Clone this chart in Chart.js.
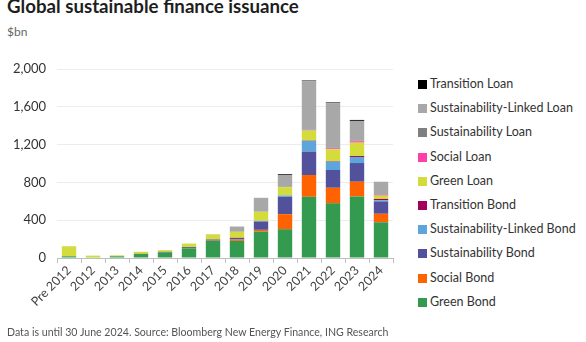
<!DOCTYPE html>
<html>
<head>
<meta charset="utf-8">
<script src="https://cdn.jsdelivr.net/npm/chart.js@4.4.1/dist/chart.umd.min.js"></script>
<style>
  html, body { margin: 0; padding: 0; background: #fff; }
  body { width: 586px; height: 342px; position: relative; overflow: hidden; font-family: Lato, "Noto Sans", sans-serif; }
  #title { position: absolute; left: 7px; top: -5px; font-size: 18.7px; font-weight: bold; color: #1e1e1e; white-space: nowrap; }
  #unit { position: absolute; left: 7px; top: 24px; font-size: 12px; color: #666; }
  #foot { position: absolute; left: 7px; top: 326px; font-size: 10.6px; color: #555; white-space: nowrap; }
  #wrap { position: absolute; left: 0; top: 0; width: 400px; height: 342px; }
  #legend { position: absolute; left: 418px; top: 0; }
  .li { position: absolute; left: 0; white-space: nowrap; font-size: 12.5px; color: #333; height: 14px; line-height: 14px; }
  .li span.b { position: absolute; left: 0; top: 3px; width: 9px; height: 9px; }
  .li span.t { position: absolute; left: 12px; top: 0; }
</style>
</head>
<body>
<div id="title">Global sustainable finance issuance</div>
<div id="unit">$bn</div>
<div id="wrap"><canvas id="c" width="400" height="342"></canvas></div>
<div id="legend"></div>
<div id="foot">Data is until 30 June 2024. Source: Bloomberg New Energy Finance, ING Research</div>
<script>
const categories = ['Pre 2012','2012','2013','2014','2015','2016','2017','2018','2019','2020','2021','2022','2023','2024'];
const yTicks = [0, 400, 800, 1200, 1600, 2000];

const greenBond          = [18, 7, 18, 42, 57, 103, 181, 181, 280, 305, 648, 580, 651, 378];
const socialBond         = [0, 0, 0, 0, 0, 2, 3, 15, 18, 159, 230, 163, 156, 90];
const sustainabilityBond = [0, 0, 0, 2, 8, 10, 12, 18, 88, 184, 248, 188, 198, 131];
const slBond             = [0, 0, 0, 0, 0, 0, 0, 0, 7, 14, 113, 88, 64, 12];
const transitionBond     = [0, 0, 0, 0, 0, 0, 0, 0, 0, 0, 3, 5, 10, 14];
const greenLoan          = [104, 18, 10, 22, 18, 38, 53, 64, 96, 88, 106, 127, 142, 35];
const socialLoan         = [0, 0, 0, 0, 0, 0, 0, 0, 0, 0, 3, 10, 14, 7];
const sustainabilityLoan = [0, 0, 0, 0, 0, 0, 0, 5, 3, 4, 6, 6, 6, 5];
const sllLoan            = [4, 0, 0, 0, 0, 0, 3, 50, 145, 125, 513, 471, 210, 135];
const transitionLoan     = [0, 0, 0, 0, 0, 0, 0, 0, 0, 8, 8, 8, 10, 0];

const seriesNames  = ['Green Bond','Social Bond','Sustainability Bond','Sustainability-Linked Bond','Transition Bond','Green Loan','Social Loan','Sustainability Loan','Sustainability-Linked Loan','Transition Loan'];
const seriesValues = [greenBond, socialBond, sustainabilityBond, slBond, transitionBond, greenLoan, socialLoan, sustainabilityLoan, sllLoan, transitionLoan];
const seriesColors = ['#349a4f','#ff6200','#52519c','#5ca6dd','#a3005c','#d3dc3b','#ff3ea8','#7f7f7f','#a8a8a8','#000000'];

const datasets = seriesNames.map((n, i) => ({
  label: n,
  data: seriesValues[i],
  backgroundColor: seriesColors[i],
  borderWidth: 0,
  categoryPercentage: 0.6,
  barPercentage: 1.0
}));

// HTML legend (top item = top of stack)
const leg = document.getElementById('legend');
for (let k = seriesNames.length - 1, j = 0; k >= 0; k--, j++) {
  const d = document.createElement('div');
  d.className = 'li';
  d.style.top = (77 + j * 24.2) + 'px';
  d.innerHTML = '<span class="b" style="background:' + seriesColors[k] + '"></span><span class="t">' + seriesNames[k] + '</span>';
  leg.appendChild(d);
}

new Chart(document.getElementById('c'), {
  type: 'bar',
  data: { labels: categories, datasets },
  options: {
    responsive: false,
    animation: false,
    devicePixelRatio: 1,
    layout: { padding: { top: 69, right: 7, left: 0, bottom: 0 } },
    plugins: { legend: { display: false }, tooltip: { enabled: false }, title: { display: false } },
    scales: {
      x: {
        stacked: true,
        grid: { display: true, drawOnChartArea: false, drawTicks: true, tickLength: 5, color: '#bfbfbf', offset: true },
        border: { display: true, color: '#bfbfbf', width: 1 },
        ticks: { maxRotation: 45, minRotation: 45, color: '#444', font: { family: 'Lato', size: 12.5 }, padding: 0, autoSkip: false },
        afterFit: (s) => { s.height = 84; }
      },
      y: {
        stacked: true,
        min: 0, max: 2000,
        afterBuildTicks: (s) => { s.ticks = yTicks.map(v => ({ value: v })); },
        grid: { color: '#ececec', drawTicks: false },
        border: { display: false },
        ticks: { color: '#333', font: { family: 'Lato', size: 13 }, padding: 11 },
        afterFit: (s) => { s.width = 57; }
      }
    }
  }
});
</script>
</body>
</html>
